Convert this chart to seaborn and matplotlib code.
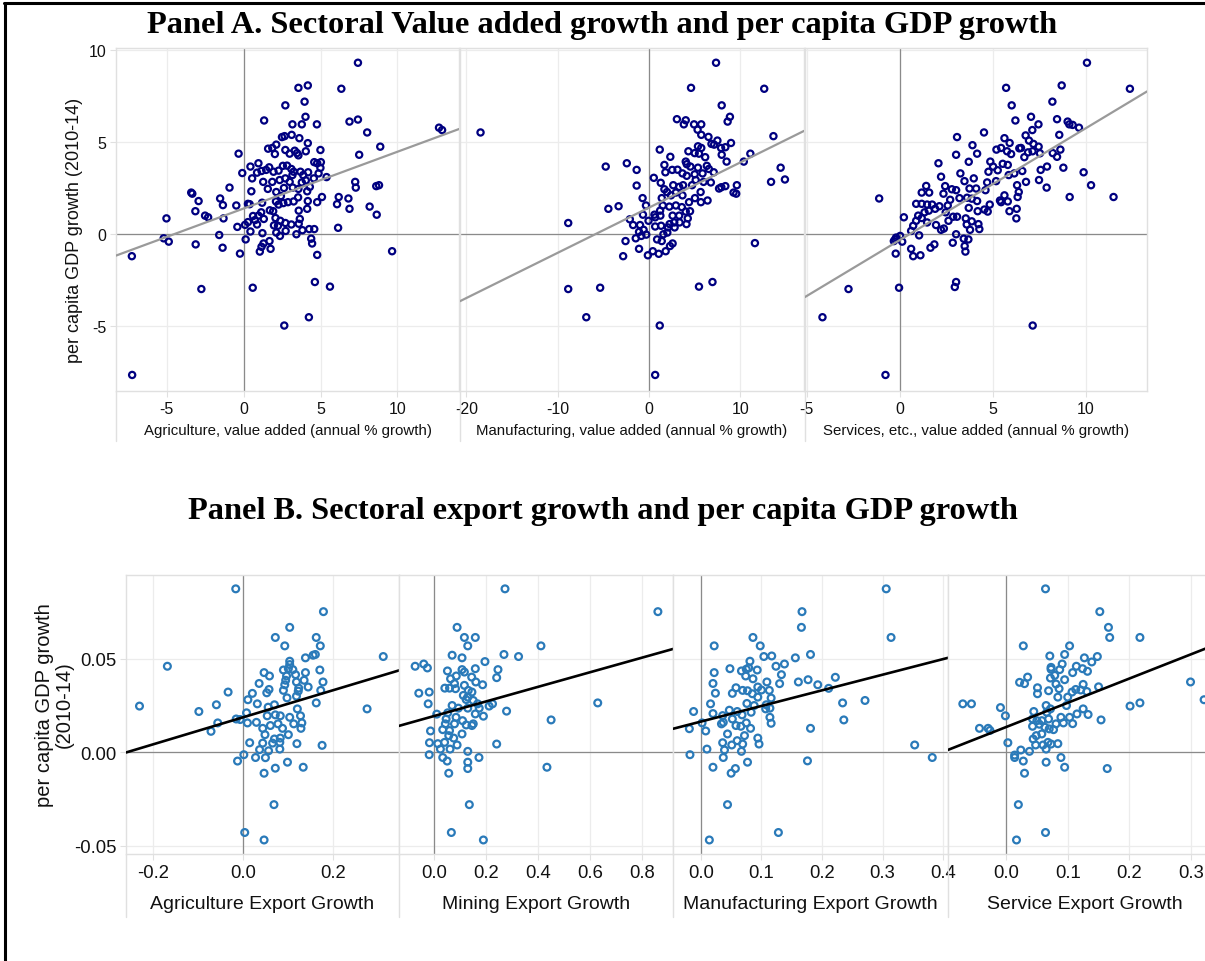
import matplotlib
matplotlib.use("Agg")
import matplotlib.pyplot as plt
from matplotlib.lines import Line2D
import numpy as np
import pandas as pd
import seaborn as sns

# ---------------------------------------------------------------- data
# Panel A: sector value-added growth (annual %) vs per capita GDP growth (%)
agri_va_pts = [
    (7.43, 9.30), (3.56, 7.94), (4.17, 8.07), (6.35, 7.89), (3.96, 7.19), (2.71, 6.99),
    (4.02, 6.37), (1.33, 6.17), (3.17, 5.96), (3.78, 5.96), (4.76, 5.96), (6.88, 6.11),
    (7.43, 6.22), (8.03, 5.52), (12.7, 5.78), (12.9, 5.65), (8.88, 4.75), (7.51, 4.31),
    (2.49, 5.27), (2.66, 5.32), (3.12, 5.39), (3.62, 5.21), (4.17, 4.94), (2.12, 4.86),
    (1.59, 4.64), (1.86, 4.68), (2.03, 4.35), (2.71, 4.57), (2.99, 4.37), (3.32, 4.53),
    (3.47, 4.40), (3.56, 4.28), (4.04, 4.50), (4.99, 4.57), (-0.33, 4.37), (4.59, 3.91),
    (4.78, 3.85), (5.02, 3.91), (4.99, 3.60), (4.87, 3.30), (5.39, 3.10), (0.96, 3.85),
    (0.44, 3.67), (-0.09, 3.32), (0.87, 3.34), (1.16, 3.43), (1.46, 3.49), (1.66, 3.63),
    (1.94, 3.39), (2.27, 3.45), (2.55, 3.71), (2.82, 3.72), (3.10, 3.54), (3.25, 3.39),
    (3.17, 3.21), (3.69, 3.39), (3.87, 3.21), (4.19, 3.36), (0.55, 3.03), (1.27, 2.84),
    (1.86, 2.84), (2.34, 2.94), (2.71, 3.03), (2.99, 2.84), (3.78, 2.81), (4.04, 2.92),
    (4.56, 3.03), (-0.92, 2.53), (0.50, 2.33), (1.57, 2.46), (2.12, 2.29), (2.42, 2.07),
    (2.62, 2.51), (3.19, 2.53), (3.56, 2.46), (4.13, 2.33), (4.30, 2.57), (7.25, 2.84),
    (7.29, 2.53), (8.62, 2.61), (8.80, 2.66), (-3.41, 2.26), (-3.34, 2.20), (-2.93, 1.80),
    (-1.53, 1.94), (-1.35, 1.58), (-0.48, 1.56), (0.28, 1.65), (0.39, 1.63), (1.20, 1.71),
    (2.10, 1.78), (2.27, 1.61), (2.58, 1.69), (2.88, 1.74), (3.25, 1.78), (3.54, 2.00),
    (4.17, 1.80), (4.78, 1.74), (5.09, 2.02), (6.07, 1.63), (6.18, 2.02), (6.81, 1.94),
    (6.88, 1.38), (8.19, 1.50), (8.65, 1.06), (-3.14, 1.25), (-2.51, 1.01), (-2.31, 0.92),
    (-1.31, 0.86), (-5.02, 0.86), (-0.41, 0.40), (0.09, 0.51), (0.28, 0.66), (0.61, 0.99),
    (0.74, 0.77), (0.96, 1.01), (1.14, 1.19), (1.31, 0.83), (0.87, 0.53), (0.44, 0.15),
    (1.22, 0.06), (1.70, 1.30), (1.92, 1.25), (2.07, 0.88), (1.97, 0.48), (2.38, 0.73),
    (2.23, 0.46), (2.12, 0.09), (2.36, -0.09), (2.73, 0.18), (2.71, 0.61), (3.10, 0.53),
    (3.43, 0.00), (3.65, 0.83), (3.58, 0.57), (3.82, 0.22), (4.13, 1.38), (4.26, 0.28),
    (4.59, 0.28), (3.58, 1.28), (6.14, 0.35), (-5.20, -0.22), (-4.87, -0.40), (-3.12, -0.55),
    (-1.59, -0.04), (-1.37, -0.73), (-0.24, -1.05), (0.13, -0.28), (1.05, -0.94), (1.16, -0.68),
    (1.29, -0.50), (1.68, -0.37), (1.75, -0.79), (4.39, -0.24), (4.45, -0.50), (4.78, -1.12),
    (9.65, -0.92), (-7.27, -1.19), (-2.75, -2.97), (0.59, -2.90), (4.63, -2.59), (5.61, -2.84),
    (4.24, -4.50), (2.64, -4.95), (-7.25, -7.63),
]

manu_va_pts = [
    (7.36, 9.30), (4.62, 7.94), (12.64, 7.89), (7.98, 6.99), (8.88, 6.37), (8.63, 6.11),
    (3.07, 6.24), (4.04, 6.18), (3.83, 5.96), (4.95, 5.96), (5.74, 5.96), (5.34, 5.67),
    (5.74, 5.39), (6.53, 5.28), (13.65, 5.32), (-18.45, 5.52), (7.51, 5.08), (6.86, 4.90),
    (7.15, 4.86), (7.91, 4.68), (8.38, 4.72), (9.00, 4.95), (5.38, 4.77), (5.74, 4.68),
    (4.33, 4.50), (5.02, 4.40), (5.49, 4.37), (6.17, 4.18), (7.98, 4.31), (8.52, 3.94),
    (11.12, 4.37), (10.40, 3.94), (1.19, 4.59), (2.35, 4.20), (1.70, 3.76), (1.81, 3.36),
    (2.56, 3.49), (3.14, 3.50), (4.04, 3.94), (4.15, 3.80), (4.55, 3.67), (5.38, 3.61),
    (6.35, 3.71), (6.57, 3.54), (7.11, 3.36), (5.88, 3.30), (5.02, 3.25), (3.68, 3.30),
    (4.15, 3.17), (5.13, 2.94), (5.99, 2.84), (6.79, 2.81), (14.44, 3.61), (13.39, 2.84),
    (14.91, 2.97), (9.64, 2.66), (8.38, 2.61), (7.94, 2.55), (7.69, 2.48), (9.28, 2.26),
    (9.57, 2.20), (-4.73, 3.67), (-2.42, 3.85), (-1.34, 3.49), (-1.34, 2.64), (0.54, 3.06),
    (1.30, 2.79), (1.70, 2.44), (2.67, 2.66), (3.32, 2.57), (3.75, 2.66), (4.73, 2.66),
    (5.67, 2.29), (6.43, 1.83), (5.70, 1.74), (5.05, 1.96), (4.40, 1.74), (3.68, 2.11),
    (2.96, 2.26), (2.42, 2.11), (1.99, 2.29), (1.41, 1.96), (-0.69, 1.96), (-0.32, 1.56),
    (-3.32, 1.52), (-4.44, 1.38), (1.52, 1.56), (2.24, 1.50), (2.96, 1.56), (3.61, 1.47),
    (4.51, 1.25), (4.04, 1.23), (1.23, 1.28), (0.61, 1.06), (-0.65, 1.06), (-2.09, 0.81),
    (-0.04, 0.73), (0.69, 0.92), (1.26, 1.01), (2.60, 1.01), (3.32, 1.01), (4.26, 0.86),
    (4.12, 0.55), (3.36, 0.64), (2.78, 0.64), (2.27, 0.55), (-1.73, 0.50), (-0.97, 0.50),
    (0.69, 0.42), (1.34, 0.46), (2.09, 0.37), (2.82, 0.37), (-8.84, 0.61), (-1.08, 0.13),
    (-0.58, 0.24), (-0.29, -0.02), (-0.83, -0.09), (-1.44, -0.22), (-2.56, -0.37), (0.90, -0.28),
    (1.41, -0.37), (1.59, 0.00), (2.02, 0.09), (2.60, -0.50), (2.31, -0.64), (1.84, -0.92),
    (1.08, -1.06), (0.43, -0.92), (-0.11, -1.14), (-1.08, -0.79), (-2.82, -1.19), (11.62, -0.48),
    (-8.84, -2.97), (-5.34, -2.90), (5.49, -2.84), (6.97, -2.59), (-6.86, -4.50), (1.19, -4.95),
    (0.69, -7.63),
]

serv_va_pts = [
    (10.07, 9.30), (5.72, 7.94), (8.71, 8.07), (12.38, 7.89), (6.02, 6.99), (8.21, 7.19),
    (6.22, 6.17), (7.06, 6.37), (7.46, 5.96), (8.46, 6.24), (9.03, 6.11), (9.12, 5.96),
    (9.30, 5.93), (9.64, 5.78), (7.13, 5.65), (6.77, 5.36), (8.58, 5.39), (4.53, 5.52),
    (3.08, 5.27), (5.63, 5.21), (5.91, 4.95), (3.91, 4.83), (4.16, 4.37), (3.03, 4.31),
    (5.20, 4.59), (5.45, 4.68), (5.77, 4.50), (5.99, 4.35), (6.43, 4.66), (6.52, 4.68),
    (6.95, 5.08), (7.19, 4.90), (7.47, 4.75), (6.90, 4.44), (7.14, 4.50), (7.54, 4.39),
    (6.70, 4.18), (8.23, 4.40), (8.46, 4.20), (8.64, 4.59), (2.08, 3.85), (3.71, 3.93),
    (4.87, 3.94), (5.02, 3.67), (4.77, 3.39), (5.27, 3.47), (5.54, 3.82), (5.81, 3.76),
    (5.86, 3.21), (6.16, 3.30), (6.59, 3.43), (7.58, 3.49), (7.92, 3.67), (8.80, 3.61),
    (9.89, 3.36), (10.29, 2.66), (11.50, 2.02), (9.14, 2.02), (7.90, 2.53), (7.49, 2.94),
    (6.79, 2.84), (6.31, 2.66), (6.40, 2.29), (6.34, 2.02), (2.22, 3.12), (3.26, 3.30),
    (3.48, 2.88), (3.98, 3.03), (4.70, 2.81), (5.18, 2.88), (2.44, 2.61), (2.80, 2.44),
    (3.03, 2.39), (1.42, 2.62), (1.18, 2.26), (1.58, 2.26), (2.35, 2.20), (3.75, 2.48),
    (4.11, 2.48), (4.61, 2.39), (3.21, 1.96), (3.62, 1.98), (3.87, 1.93), (4.16, 1.80),
    (4.84, 1.61), (5.39, 1.83), (5.63, 2.11), (5.45, 1.74), (5.81, 1.78), (6.29, 1.38),
    (-1.11, 1.94), (0.88, 1.65), (1.18, 1.65), (1.47, 1.61), (1.74, 1.61), (1.90, 1.38),
    (2.13, 1.52), (2.58, 1.56), (2.71, 1.87), (2.47, 1.19), (2.87, 0.95), (3.08, 0.95),
    (3.71, 1.43), (4.19, 1.25), (4.55, 1.34), (4.73, 1.23), (5.90, 1.25), (6.27, 0.86),
    (0.22, 0.92), (0.99, 1.01), (1.33, 1.19), (1.56, 1.28), (1.18, 0.88), (1.47, 0.64),
    (0.88, 0.73), (0.72, 0.46), (0.61, 0.18), (1.04, -0.06), (1.95, 0.50), (2.22, 0.24),
    (2.37, 0.31), (2.62, 0.73), (3.55, 0.86), (3.87, 0.70), (3.60, 0.53), (3.78, 0.24),
    (4.23, 0.55), (4.28, 0.28), (3.03, 0.00), (3.44, -0.24), (3.69, -0.28), (3.49, -0.64),
    (3.53, -0.94), (2.85, -0.46), (1.86, -0.55), (1.65, -0.73), (0.61, -0.79), (0.72, -1.19),
    (1.11, -1.14), (-0.25, -0.28), (-0.32, -0.37), (-0.20, -0.18), (0.02, -0.09), (0.13, -0.40),
    (-0.22, -1.05), (-2.76, -2.97), (-0.04, -2.90), (3.03, -2.59), (2.96, -2.86), (-4.16, -4.50),
    (7.15, -4.95), (-0.77, -7.63),
]

# Panel B: sector export growth vs per capita GDP growth (2010-14)
agri_exp_pts = [
    (-0.016, 0.0873), (0.179, 0.0751), (0.104, 0.0667), (0.072, 0.0613), (0.163, 0.0613),
    (0.093, 0.0568), (0.172, 0.0568), (-0.168, 0.0459), (0.312, 0.0511), (0.139, 0.0504),
    (0.156, 0.0518), (0.161, 0.0522), (0.104, 0.0486), (0.104, 0.0468), (0.090, 0.0439),
    (0.101, 0.0446), (0.111, 0.0441), (0.117, 0.0414), (0.171, 0.0439), (0.139, 0.0425),
    (0.047, 0.0425), (0.059, 0.0407), (0.097, 0.0407), (0.036, 0.0367), (0.095, 0.0384),
    (0.136, 0.0384), (0.178, 0.0375), (0.093, 0.0360), (0.119, 0.0375), (0.145, 0.0348),
    (0.124, 0.0342), (0.090, 0.0330), (0.058, 0.0335), (0.053, 0.0317), (-0.033, 0.0321),
    (0.123, 0.0326), (0.173, 0.0330), (0.021, 0.0314), (0.011, 0.0280), (0.098, 0.0290),
    (0.119, 0.0299), (-0.059, 0.0253), (-0.230, 0.0246), (-0.098, 0.0217), (0.276, 0.0231),
    (0.032, 0.0258), (0.070, 0.0253), (0.056, 0.0240), (0.121, 0.0231), (0.163, 0.0263),
    (0.008, 0.0210), (-0.015, 0.0177), (-0.006, 0.0174), (-0.056, 0.0156), (-0.071, 0.0111),
    (0.010, 0.0156), (0.030, 0.0159), (0.054, 0.0194), (0.072, 0.0199), (0.083, 0.0194),
    (0.104, 0.0186), (0.128, 0.0194), (0.044, 0.0127), (0.061, 0.0142), (0.078, 0.0151),
    (0.088, 0.0127), (0.113, 0.0151), (0.129, 0.0127), (0.131, 0.0156), (0.049, 0.0093),
    (0.070, 0.0070), (0.083, 0.0075), (0.101, 0.0093), (0.015, 0.0050), (0.044, 0.0048),
    (0.066, 0.0048), (0.082, 0.0052), (0.120, 0.0045), (0.176, 0.0036), (0.037, 0.0013),
    (0.057, 0.0007), (0.082, 0.0016), (0.002, -0.0014), (-0.012, -0.0048), (0.028, -0.0029),
    (0.050, -0.0030), (0.099, -0.0054), (0.072, -0.0086), (0.134, -0.0081), (0.047, -0.0113),
    (0.069, -0.0281), (0.004, -0.0430), (0.047, -0.0470),
]

mining_exp_pts = [
    (0.273, 0.0873), (0.860, 0.0751), (0.089, 0.0667), (0.117, 0.0613), (0.159, 0.0613),
    (0.130, 0.0568), (0.411, 0.0568), (0.070, 0.0518), (0.108, 0.0504), (0.269, 0.0522),
    (0.325, 0.0511), (0.196, 0.0484), (-0.072, 0.0459), (-0.039, 0.0471), (-0.025, 0.0450),
    (0.052, 0.0434), (0.108, 0.0441), (0.117, 0.0428), (0.159, 0.0446), (0.246, 0.0441),
    (0.241, 0.0398), (0.064, 0.0392), (0.086, 0.0407), (0.145, 0.0401), (0.161, 0.0375),
    (0.187, 0.0360), (0.079, 0.0366), (0.042, 0.0342), (0.060, 0.0342), (0.083, 0.0339),
    (0.117, 0.0357), (0.132, 0.0330), (0.146, 0.0321), (-0.058, 0.0315), (-0.018, 0.0321),
    (0.113, 0.0303), (0.130, 0.0294), (0.124, 0.0281), (0.151, 0.0276), (-0.022, 0.0258),
    (0.629, 0.0263), (0.212, 0.0246), (0.225, 0.0258), (0.070, 0.0249), (0.094, 0.0235),
    (0.130, 0.0235), (0.168, 0.0258), (0.174, 0.0235), (0.279, 0.0219), (0.011, 0.0203),
    (0.053, 0.0210), (0.085, 0.0186), (0.159, 0.0204), (0.190, 0.0192), (0.047, 0.0177),
    (0.110, 0.0168), (0.450, 0.0172), (0.044, 0.0151), (0.079, 0.0151), (0.124, 0.0145),
    (0.146, 0.0142), (0.151, 0.0151), (0.034, 0.0120), (0.060, 0.0115), (-0.013, 0.0113),
    (0.108, 0.0097), (0.057, 0.0088), (0.076, 0.0075), (0.041, 0.0052), (-0.017, 0.0050),
    (0.015, 0.0045), (0.089, 0.0038), (0.241, 0.0043), (0.025, 0.0016), (0.062, 0.0016),
    (0.130, 0.0004), (-0.018, -0.0014), (0.034, -0.0029), (0.051, -0.0048), (0.130, -0.0054),
    (0.173, -0.0029), (0.130, -0.0088), (0.434, -0.0081), (0.057, -0.0113), (0.136, -0.0281),
    (0.067, -0.0430), (0.190, -0.0470),
]

manu_exp_pts = [
    (0.306, 0.0873), (0.167, 0.0751), (0.166, 0.0667), (0.314, 0.0613), (0.086, 0.0613),
    (0.022, 0.0568), (0.098, 0.0568), (0.104, 0.0511), (0.117, 0.0514), (0.156, 0.0504),
    (0.181, 0.0522), (0.081, 0.0486), (0.124, 0.0459), (0.138, 0.0471), (0.048, 0.0446),
    (0.067, 0.0434), (0.075, 0.0443), (0.079, 0.0450), (0.093, 0.0439), (0.022, 0.0425),
    (0.074, 0.0407), (0.086, 0.0392), (0.133, 0.0414), (0.020, 0.0367), (0.109, 0.0375),
    (0.130, 0.0366), (0.161, 0.0375), (0.177, 0.0387), (0.193, 0.0360), (0.222, 0.0400),
    (0.211, 0.0341), (0.058, 0.0344), (0.069, 0.0330), (0.077, 0.0328), (0.094, 0.0348),
    (0.100, 0.0332), (0.113, 0.0330), (0.024, 0.0315), (0.052, 0.0314), (0.085, 0.0312),
    (0.094, 0.0294), (0.116, 0.0289), (0.016, 0.0258), (0.076, 0.0260), (0.088, 0.0249),
    (0.108, 0.0253), (0.114, 0.0235), (0.107, 0.0231), (0.234, 0.0263), (0.271, 0.0276),
    (-0.012, 0.0217), (0.020, 0.0206), (0.036, 0.0195), (0.047, 0.0224), (0.060, 0.0217),
    (0.068, 0.0199), (0.083, 0.0213), (0.114, 0.0186), (0.236, 0.0172), (0.002, 0.0156),
    (0.034, 0.0151), (0.037, 0.0159), (0.052, 0.0177), (0.058, 0.0142), (0.066, 0.0138),
    (0.075, 0.0156), (0.082, 0.0127), (0.116, 0.0154), (-0.019, 0.0125), (0.008, 0.0113),
    (0.044, 0.0097), (0.072, 0.0088), (0.094, 0.0075), (0.181, 0.0127), (0.060, 0.0061),
    (0.036, 0.0050), (0.051, 0.0038), (0.069, 0.0043), (0.096, 0.0043), (0.010, 0.0016),
    (0.039, 0.0011), (0.067, 0.0004), (-0.018, -0.0014), (0.037, -0.0029), (0.353, 0.0038),
    (0.382, -0.0029), (0.176, -0.0047), (0.077, -0.0054), (0.020, -0.0081), (0.057, -0.0088),
    (0.050, -0.0113), (0.044, -0.0281), (0.128, -0.0430), (0.014, -0.0470),
]

serv_exp_pts = [
    (0.064, 0.0873), (0.152, 0.0751), (0.166, 0.0667), (0.168, 0.0613), (0.217, 0.0613),
    (0.028, 0.0568), (0.103, 0.0568), (0.071, 0.0514), (0.095, 0.0522), (0.127, 0.0504),
    (0.148, 0.0511), (0.139, 0.0482), (0.091, 0.0471), (0.073, 0.0453), (0.073, 0.0443),
    (0.114, 0.0459), (0.124, 0.0446), (0.087, 0.0441), (0.108, 0.0425), (0.132, 0.0432),
    (0.072, 0.0396), (0.079, 0.0410), (0.095, 0.0387), (0.035, 0.0401), (0.022, 0.0373),
    (0.030, 0.0366), (0.081, 0.0364), (0.051, 0.0344), (0.051, 0.0312), (0.069, 0.0328),
    (0.086, 0.0339), (0.084, 0.0294), (0.100, 0.0294), (0.107, 0.0321), (0.113, 0.0335),
    (0.121, 0.0332), (0.125, 0.0362), (0.131, 0.0324), (0.150, 0.0349), (0.299, 0.0375),
    (0.321, 0.0280), (-0.070, 0.0258), (-0.056, 0.0258), (-0.009, 0.0238), (-0.001, 0.0194),
    (-0.043, 0.0127), (-0.029, 0.0127), (-0.026, 0.0116), (0.201, 0.0246), (0.217, 0.0263),
    (0.045, 0.0217), (0.065, 0.0249), (0.072, 0.0231), (0.066, 0.0213), (0.098, 0.0249),
    (0.125, 0.0231), (0.133, 0.0201), (0.115, 0.0204), (0.103, 0.0186), (0.089, 0.0186),
    (0.154, 0.0172), (0.043, 0.0177), (0.050, 0.0168), (0.058, 0.0168), (0.069, 0.0177),
    (0.093, 0.0156), (0.108, 0.0152), (0.081, 0.0151), (0.043, 0.0138), (0.054, 0.0149),
    (0.063, 0.0133), (0.070, 0.0124), (0.077, 0.0120), (0.058, 0.0097), (0.049, 0.0088),
    (0.044, 0.0070), (0.048, 0.0038), (0.060, 0.0038), (0.068, 0.0052), (0.073, 0.0043),
    (0.084, 0.0045), (0.065, 0.0016), (0.003, 0.0050), (0.024, 0.0011), (0.038, 0.0004),
    (0.014, -0.0016), (0.014, -0.0029), (0.028, -0.0048), (0.065, -0.0054), (0.089, -0.0029),
    (0.095, -0.0081), (0.030, -0.0113), (0.164, -0.0088), (0.020, -0.0281), (0.064, -0.0430),
    (0.017, -0.0470),
]

panel_a_labels = [
    "Agriculture, value added (annual % growth)",
    "Manufacturing, value added (annual % growth)",
    "Services, etc., value added (annual % growth)",
]
panel_b_labels = [
    "Agriculture Export Growth",
    "Mining Export Growth",
    "Manufacturing Export Growth",
    "Service Export Growth",
]
panel_a_title = "Panel A. Sectoral Value added growth and per capita GDP growth"
panel_b_title = "Panel B. Sectoral export growth and per capita GDP growth"
ylabel_a = "per capita GDP growth (2010-14)"
ylabel_b = "per capita GDP growth\n(2010-14)"

panel_a_xticks = [[-5, 0, 5, 10], [-20, -10, 0, 10], [-5, 0, 5, 10]]
panel_a_yticks = [-5, 0, 5, 10]
panel_b_xticks = [[-0.2, 0.0, 0.2], [0.0, 0.2, 0.4, 0.6, 0.8], [0.0, 0.1, 0.2, 0.3, 0.4],
                  [0.0, 0.1, 0.2, 0.3]]
panel_b_yticks = [-0.05, 0.0, 0.05]

# ---------------------------------------------------------------- layout / style
W, H = 1205, 962
sns.set_theme(style="white")
plt.rcParams["font.family"] = ["Liberation Sans", "DejaVu Sans"]
plt.rcParams["axes.unicode_minus"] = False

fig = plt.figure(figsize=(W / 100, H / 100), dpi=100)


def px_box(left, top, right, bottom):
    return [left / W, 1 - bottom / H, (right - left) / W, (bottom - top) / H]


def fx(x):
    return x / W


def fy(y):
    return 1 - y / H


GRID = "#ececec"
FRAME = "#e0e0e0"
ZERO = "#8a8a8a"
NAVY = "#000080"
BLUE = "#2a7ab9"
TEXT = "#111111"

a_edges = [(116, 459), (460, 804), (805, 1147)]
a_top, a_bot = 49, 392
a_xlims = [(-8.3, 14.0), (-20.7, 17.0), (-5.1, 13.3)]
a_ylim = (-8.5, 10.1)

b_edges = [(126, 399), (399, 673), (673, 948), (948, 1222)]
b_top, b_bot = 576, 855
b_xlims = [(-0.26, 0.347), (-0.134, 0.918), (-0.046, 0.408), (-0.094, 0.35)]
b_ylim = (-0.0545, 0.0947)


def style_axes(ax, xticks, yticks, fontsize, show_y):
    ax.set_xticks(xticks)
    ax.set_yticks(yticks)
    ax.grid(True, color=GRID, lw=0.9)
    ax.set_axisbelow(True)
    for sp in ax.spines.values():
        sp.set_color(FRAME)
        sp.set_linewidth(1.0)
    ax.axhline(0, color=ZERO, lw=0.9, zorder=1.5)
    ax.axvline(0, color=ZERO, lw=0.9, zorder=1.5)
    ax.tick_params(axis="both", which="both", direction="out", length=4, width=0.8,
                   color=FRAME, labelsize=fontsize, labelcolor=TEXT, pad=3,
                   bottom=True, left=show_y)
    if not show_y:
        ax.set_yticklabels([])
    ax.set_ylabel("")


a_sets = [agri_va_pts, manu_va_pts, serv_va_pts]
for i, pts in enumerate(a_sets):
    l, r = a_edges[i]
    ax = fig.add_axes(px_box(l, a_top, r, a_bot))
    ax.set_xlim(*a_xlims[i])
    ax.set_ylim(*a_ylim)
    df = pd.DataFrame(pts, columns=["sector", "gdp"])
    sns.regplot(data=df, x="sector", y="gdp", ax=ax, ci=None, truncate=False,
                scatter_kws=dict(s=20, facecolors="none", color=NAVY, linewidths=1.6, alpha=1,
                                 zorder=3),
                line_kws=dict(color="#9a9a9a", lw=1.6, zorder=4))
    ax.set_xlim(*a_xlims[i])
    ax.set_ylim(*a_ylim)
    style_axes(ax, panel_a_xticks[i], panel_a_yticks, 11.5, i == 0)
    ax.set_xlabel(panel_a_labels[i], fontsize=10.8, color=TEXT, labelpad=5)
    # pane separator running down through the label strip
    fig.add_artist(Line2D([fx(l), fx(l)], [fy(a_bot), fy(442)], color=FRAME, lw=1.0))

b_sets = [agri_exp_pts, mining_exp_pts, manu_exp_pts, serv_exp_pts]
for i, pts in enumerate(b_sets):
    l, r = b_edges[i]
    ax = fig.add_axes(px_box(l, b_top, r, b_bot))
    ax.set_xlim(*b_xlims[i])
    ax.set_ylim(*b_ylim)
    df = pd.DataFrame(pts, columns=["exports", "gdp"])
    sns.regplot(data=df, x="exports", y="gdp", ax=ax, ci=None, truncate=False,
                scatter_kws=dict(s=24, facecolors="none", color=BLUE, linewidths=1.6, alpha=1,
                                 zorder=3),
                line_kws=dict(color="black", lw=1.9, zorder=4))
    ax.set_xlim(*b_xlims[i])
    ax.set_ylim(*b_ylim)
    style_axes(ax, panel_b_xticks[i], panel_b_yticks, 13.3, i == 0)
    if i == 0:
        ax.set_yticklabels([f"{v:.2f}" for v in panel_b_yticks])
    ax.set_xticklabels([f"{v:.1f}" for v in panel_b_xticks[i]])
    ax.set_xlabel(panel_b_labels[i], fontsize=14, color=TEXT, labelpad=10)
    fig.add_artist(Line2D([fx(l), fx(l)], [fy(b_bot), fy(918)], color=FRAME, lw=1.0))

# axis titles for the y direction
fig.text(fx(75), fy(230), ylabel_a, rotation=90, ha="center", va="center",
         fontsize=13, color=TEXT)
fig.text(fx(54), fy(705), ylabel_b, rotation=90, ha="center", va="center",
         fontsize=14.5, color=TEXT, linespacing=1.05)

# panel headings
title_font = ["Liberation Serif", "DejaVu Serif"]
fig.text(0.5, fy(26), panel_a_title, ha="center", va="center", fontsize=23.3,
         fontweight="bold", family=title_font, color="black")
fig.text(0.5, fy(512), panel_b_title, ha="center", va="center", fontsize=23.3,
         fontweight="bold", family=title_font, color="black")

# outer frame (top and left edges)
fig.add_artist(Line2D([fx(4), 1.0], [fy(4), fy(4)], color="black", lw=2.2))
fig.add_artist(Line2D([fx(5), fx(5)], [fy(4), 0.0], color="black", lw=2.2))

fig.savefig("out.png", dpi=100)
